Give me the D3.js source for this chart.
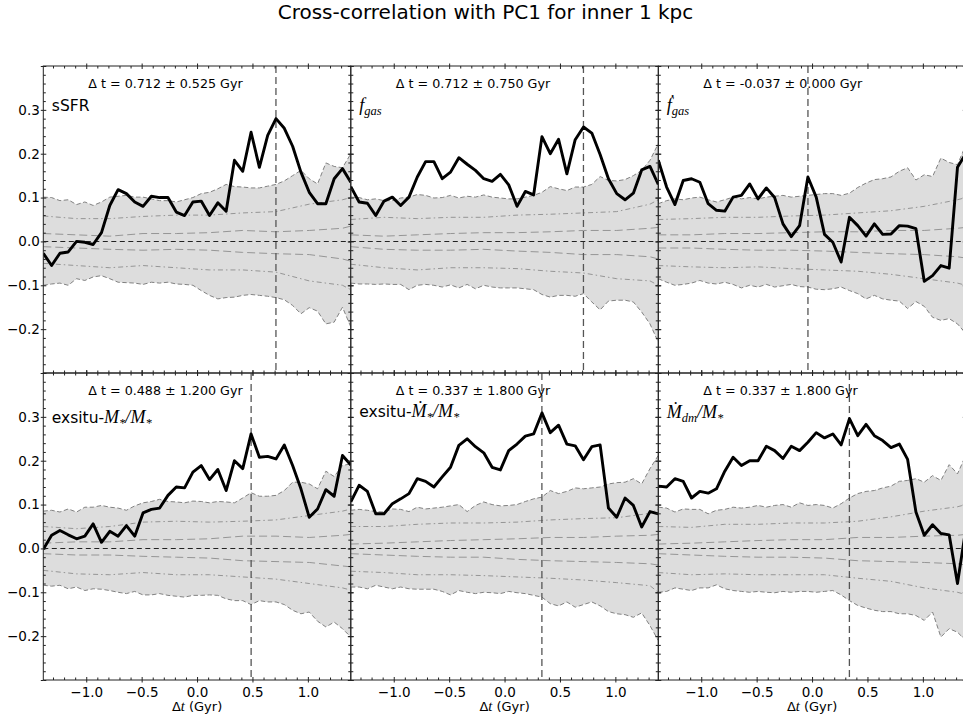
<!DOCTYPE html>
<html>
<head>
<meta charset="utf-8">
<script src="https://cdn.jsdelivr.net/npm/d3@7"></script>
<style>
  body { margin: 0; background: #fff; }
  svg { display: block; }
</style>
</head>
<body>
<svg id="chart" width="963" height="721"></svg>
<script>
// ---- lag grid (Gyr) -------------------------------------------------------
const lags = [-1.3875, -1.3125, -1.2375, -1.1625, -1.0875, -1.0125, -0.9375, -0.8625,
  -0.7875, -0.7125, -0.6375, -0.5625, -0.4875, -0.4125, -0.3375, -0.2625, -0.1875,
  -0.1125, -0.0375, 0.0375, 0.1125, 0.1875, 0.2625, 0.3375, 0.4125, 0.4875, 0.5625,
  0.6375, 0.7125, 0.7875, 0.8625, 0.9375, 1.0125, 1.0875, 1.1625, 1.2375, 1.3125, 1.3875];
// coarser lag grid used for the inner envelope lines
const innerLags = [-1.3875, -1.0875, -0.7875, -0.4875, -0.1875, 0.1125, 0.4125, 0.7125, 1.0125, 1.3125, 1.3875];

// ---- panel titles and best lags -----------------------------------------
const quantities = ["sSFR", "f_gas", "fdot_gas", "exsitu_M", "exsitu_Mdot", "Mdot_dm"];
const peakLag = [0.712, 0.712, -0.037, 0.488, 0.337, 0.337];
const peakErr = [0.525, 0.750, 0.000, 1.200, 1.800, 1.800];

// ---- cross-correlation curves ---------------------------------------------
const corrSSFR = [-0.027, -0.055, -0.027, -0.024, 0.000, -0.002, -0.007, 0.020, 0.082, 0.118,
  0.109, 0.090, 0.080, 0.103, 0.100, 0.100, 0.067, 0.059, 0.090, 0.092, 0.059, 0.088, 0.069,
  0.185, 0.160, 0.249, 0.169, 0.242, 0.280, 0.258, 0.217, 0.158, 0.112, 0.086, 0.086, 0.143,
  0.166, 0.135];
const corrFgas = [0.125, 0.090, 0.087, 0.059, 0.092, 0.101, 0.082, 0.101, 0.147, 0.182, 0.182,
  0.143, 0.158, 0.191, 0.176, 0.162, 0.143, 0.137, 0.153, 0.129, 0.080, 0.114, 0.106, 0.239,
  0.200, 0.233, 0.154, 0.232, 0.261, 0.247, 0.198, 0.143, 0.109, 0.095, 0.110, 0.163, 0.171,
  0.130];
const corrFdotGas = [0.185, 0.124, 0.084, 0.139, 0.143, 0.135, 0.086, 0.071, 0.069, 0.101,
  0.105, 0.131, 0.097, 0.122, 0.100, 0.040, 0.011, 0.036, 0.147, 0.101, 0.016, -0.002, -0.047,
  0.055, 0.036, 0.012, 0.040, 0.016, 0.017, 0.036, 0.035, 0.029, -0.091, -0.078, -0.055,
  -0.061, 0.169, 0.200];
const corrExsituM = [-0.002, 0.030, 0.041, 0.031, 0.022, 0.028, 0.056, 0.014, 0.039, 0.028,
  0.052, 0.028, 0.081, 0.089, 0.092, 0.121, 0.140, 0.138, 0.174, 0.189, 0.157, 0.180, 0.132,
  0.200, 0.182, 0.261, 0.208, 0.210, 0.204, 0.236, 0.189, 0.136, 0.071, 0.090, 0.134, 0.119,
  0.212, 0.190];
const corrExsituMdot = [0.106, 0.144, 0.130, 0.079, 0.079, 0.102, 0.113, 0.125, 0.159, 0.153,
  0.140, 0.163, 0.185, 0.235, 0.250, 0.232, 0.218, 0.185, 0.179, 0.223, 0.238, 0.256, 0.261,
  0.309, 0.264, 0.281, 0.238, 0.234, 0.202, 0.232, 0.236, 0.092, 0.071, 0.115, 0.098, 0.049,
  0.084, 0.079];
const corrMdotDm = [0.142, 0.140, 0.159, 0.153, 0.115, 0.130, 0.126, 0.136, 0.176, 0.208, 0.189,
  0.200, 0.200, 0.233, 0.223, 0.205, 0.233, 0.223, 0.242, 0.264, 0.252, 0.261, 0.236, 0.296,
  0.257, 0.283, 0.257, 0.246, 0.230, 0.238, 0.203, 0.083, 0.030, 0.054, 0.034, 0.031, -0.080,
  0.045];

// ---- null-distribution envelopes: outer band (shaded) -------------------------
const outerHiSSFR = [0.101, 0.100, 0.093, 0.095, 0.084, 0.090, 0.082, 0.090, 0.101, 0.103,
  0.105, 0.101, 0.101, 0.097, 0.093, 0.093, 0.090, 0.095, 0.100, 0.109, 0.112, 0.120, 0.130,
  0.125, 0.124, 0.122, 0.122, 0.126, 0.130, 0.138, 0.150, 0.162, 0.143, 0.131, 0.179, 0.171,
  0.168, 0.200];
const outerLoSSFR = [-0.100, -0.097, -0.095, -0.100, -0.085, -0.089, -0.081, -0.078, -0.085,
  -0.093, -0.094, -0.095, -0.098, -0.093, -0.095, -0.093, -0.097, -0.098, -0.100, -0.112,
  -0.123, -0.131, -0.128, -0.127, -0.123, -0.121, -0.123, -0.125, -0.128, -0.133, -0.146,
  -0.165, -0.151, -0.159, -0.188, -0.184, -0.150, -0.195];
const outerHiFgas = [0.101, 0.100, 0.095, 0.097, 0.093, 0.093, 0.099, 0.101, 0.107, 0.105,
  0.099, 0.100, 0.105, 0.099, 0.103, 0.101, 0.106, 0.101, 0.099, 0.097, 0.097, 0.101, 0.105,
  0.112, 0.125, 0.120, 0.116, 0.124, 0.124, 0.130, 0.148, 0.139, 0.138, 0.141, 0.150, 0.162,
  0.185, 0.223];
const outerLoFgas = [-0.095, -0.097, -0.097, -0.098, -0.097, -0.098, -0.098, -0.110, -0.100,
  -0.098, -0.100, -0.104, -0.099, -0.106, -0.098, -0.108, -0.100, -0.104, -0.106, -0.106,
  -0.106, -0.108, -0.110, -0.121, -0.127, -0.123, -0.123, -0.125, -0.119, -0.138, -0.156,
  -0.136, -0.134, -0.134, -0.138, -0.161, -0.188, -0.230];
const outerHiFdotGas = [0.086, 0.093, 0.097, 0.095, 0.099, 0.101, 0.095, 0.090, 0.095, 0.101,
  0.097, 0.100, 0.097, 0.101, 0.103, 0.105, 0.101, 0.103, 0.105, 0.107, 0.109, 0.109, 0.105,
  0.110, 0.123, 0.133, 0.141, 0.143, 0.147, 0.160, 0.168, 0.140, 0.152, 0.148, 0.190, 0.180,
  0.175, 0.220];
const outerLoFdotGas = [-0.085, -0.093, -0.100, -0.098, -0.095, -0.089, -0.095, -0.097,
  -0.093, -0.098, -0.106, -0.100, -0.104, -0.098, -0.104, -0.101, -0.098, -0.103, -0.104,
  -0.109, -0.110, -0.108, -0.104, -0.112, -0.119, -0.131, -0.123, -0.131, -0.134, -0.136,
  -0.153, -0.137, -0.148, -0.173, -0.180, -0.176, -0.188, -0.210];
const outerHiExsituM = [0.085, 0.087, 0.083, 0.090, 0.083, 0.094, 0.094, 0.098, 0.094, 0.092,
  0.087, 0.097, 0.104, 0.107, 0.112, 0.107, 0.106, 0.104, 0.108, 0.107, 0.104, 0.107, 0.106,
  0.104, 0.115, 0.127, 0.119, 0.119, 0.121, 0.132, 0.151, 0.151, 0.147, 0.136, 0.176, 0.164,
  0.189, 0.193];
const outerLoExsituM = [-0.084, -0.086, -0.084, -0.092, -0.088, -0.096, -0.092, -0.093,
  -0.096, -0.100, -0.103, -0.098, -0.106, -0.106, -0.103, -0.107, -0.109, -0.111, -0.107,
  -0.107, -0.106, -0.107, -0.115, -0.119, -0.119, -0.128, -0.119, -0.122, -0.122, -0.128,
  -0.141, -0.149, -0.145, -0.166, -0.179, -0.168, -0.183, -0.202];
const outerHiExsituMdot = [0.087, 0.089, 0.087, 0.084, 0.083, 0.090, 0.089, 0.084, 0.094,
  0.090, 0.092, 0.094, 0.097, 0.100, 0.084, 0.098, 0.106, 0.100, 0.097, 0.098, 0.100, 0.107,
  0.113, 0.117, 0.132, 0.125, 0.130, 0.138, 0.136, 0.138, 0.140, 0.147, 0.150, 0.151, 0.159,
  0.147, 0.182, 0.212];
const outerLoExsituMdot = [-0.088, -0.088, -0.092, -0.084, -0.088, -0.092, -0.088, -0.092,
  -0.093, -0.093, -0.093, -0.098, -0.106, -0.096, -0.100, -0.103, -0.100, -0.101, -0.103,
  -0.098, -0.101, -0.103, -0.107, -0.111, -0.126, -0.131, -0.122, -0.134, -0.128, -0.122,
  -0.131, -0.144, -0.149, -0.151, -0.157, -0.147, -0.176, -0.210];
const outerHiMdotDm = [0.094, 0.092, 0.083, 0.090, 0.089, 0.089, 0.079, 0.087, 0.089, 0.094,
  0.092, 0.094, 0.098, 0.094, 0.098, 0.100, 0.094, 0.104, 0.098, 0.100, 0.098, 0.092, 0.102,
  0.115, 0.125, 0.130, 0.132, 0.138, 0.142, 0.153, 0.155, 0.159, 0.151, 0.166, 0.155, 0.191,
  0.170, 0.212];
const outerLoMdotDm = [-0.100, -0.098, -0.090, -0.093, -0.096, -0.090, -0.090, -0.083, -0.092,
  -0.096, -0.098, -0.100, -0.098, -0.100, -0.101, -0.098, -0.100, -0.098, -0.098, -0.100,
  -0.098, -0.096, -0.106, -0.119, -0.130, -0.136, -0.141, -0.144, -0.144, -0.149, -0.149,
  -0.153, -0.164, -0.145, -0.202, -0.183, -0.191, -0.210];

// ---- inner envelopes: dash-dot pair and dashed pair (on innerLags) ----------
const midHiSSFR = [0.058, 0.052, 0.052, 0.057, 0.060, 0.060, 0.065, 0.068, 0.085, 0.095, 0.100];
const midLoSSFR = [-0.050, -0.055, -0.060, -0.055, -0.060, -0.065, -0.065, -0.070, -0.090, -0.100, -0.110];
const nearHiSSFR = [0.018, 0.015, 0.012, 0.018, 0.018, 0.020, 0.025, 0.022, 0.025, 0.030, 0.035];
const nearLoSSFR = [-0.012, -0.015, -0.018, -0.020, -0.018, -0.020, -0.025, -0.028, -0.030, -0.040, -0.045];
const midHiFgas = [0.050, 0.055, 0.052, 0.055, 0.055, 0.060, 0.062, 0.065, 0.068, 0.085, 0.095];
const midLoFgas = [-0.052, -0.060, -0.065, -0.060, -0.060, -0.062, -0.068, -0.072, -0.085, -0.090, -0.100];
const nearHiFgas = [0.015, 0.012, 0.015, 0.018, 0.020, 0.020, 0.022, 0.025, 0.025, 0.030, 0.032];
const nearLoFgas = [-0.012, -0.018, -0.020, -0.020, -0.018, -0.022, -0.025, -0.030, -0.030, -0.035, -0.040];
const midHiFdotGas = [0.050, 0.052, 0.055, 0.055, 0.058, 0.060, 0.065, 0.070, 0.080, 0.095, 0.100];
const midLoFdotGas = [-0.055, -0.058, -0.060, -0.058, -0.062, -0.065, -0.068, -0.075, -0.085, -0.095, -0.100];
const nearHiFdotGas = [0.015, 0.015, 0.018, 0.018, 0.020, 0.022, 0.022, 0.025, 0.025, 0.030, 0.032];
const nearLoFdotGas = [-0.015, -0.015, -0.018, -0.020, -0.020, -0.022, -0.025, -0.028, -0.030, -0.035, -0.038];
const midHiExsituM = [0.050, 0.045, 0.050, 0.060, 0.062, 0.060, 0.062, 0.065, 0.075, 0.085, 0.090];
const midLoExsituM = [-0.050, -0.058, -0.060, -0.055, -0.060, -0.060, -0.065, -0.070, -0.080, -0.090, -0.095];
const nearHiExsituM = [0.012, 0.015, 0.015, 0.020, 0.020, 0.022, 0.028, 0.028, 0.025, 0.030, 0.032];
const nearLoExsituM = [-0.012, -0.015, -0.015, -0.018, -0.020, -0.022, -0.028, -0.030, -0.032, -0.040, -0.042];
const midHiExsituMdot = [0.050, 0.050, 0.055, 0.058, 0.058, 0.060, 0.065, 0.068, 0.070, 0.080, 0.090];
const midLoExsituMdot = [-0.052, -0.055, -0.060, -0.060, -0.062, -0.065, -0.068, -0.072, -0.078, -0.085, -0.100];
const nearHiExsituMdot = [0.010, 0.012, 0.015, 0.018, 0.020, 0.022, 0.025, 0.025, 0.028, 0.030, 0.032];
const nearLoExsituMdot = [-0.012, -0.015, -0.018, -0.020, -0.020, -0.025, -0.028, -0.030, -0.032, -0.035, -0.038];
const midHiMdotDm = [0.050, 0.048, 0.055, 0.055, 0.058, 0.058, 0.062, 0.072, 0.085, 0.095, 0.100];
const midLoMdotDm = [-0.055, -0.060, -0.058, -0.060, -0.060, -0.060, -0.068, -0.075, -0.090, -0.100, -0.105];
const nearHiMdotDm = [0.010, 0.012, 0.015, 0.018, 0.020, 0.020, 0.025, 0.025, 0.028, 0.030, 0.032];
const nearLoMdotDm = [-0.012, -0.015, -0.018, -0.020, -0.020, -0.022, -0.028, -0.030, -0.032, -0.035, -0.038];

// ---- ticks ------------------------------------------------------------------
const xMajor = [-1.0, -0.5, 0.0, 0.5, 1.0];
const xMinor = [-1.3, -1.2, -1.1, -0.9, -0.8, -0.7, -0.6, -0.4, -0.3, -0.2, -0.1,
  0.1, 0.2, 0.3, 0.4, 0.6, 0.7, 0.8, 0.9, 1.1, 1.2, 1.3];
const yMajor = [-0.3, -0.2, -0.1, 0.0, 0.1, 0.2, 0.3, 0.4];
const yLabelled = [-0.2, -0.1, 0.0, 0.1, 0.2, 0.3];
const yMinor = [-0.28, -0.26, -0.24, -0.22, -0.18, -0.16, -0.14, -0.12, -0.08, -0.06, -0.04,
  -0.02, 0.02, 0.04, 0.06, 0.08, 0.12, 0.14, 0.16, 0.18, 0.22, 0.24, 0.26, 0.28, 0.32, 0.34,
  0.36, 0.38];

// ---- panel assembly ---------------------------------------------------------
const panelSeries = [
  { corr: corrSSFR, hi: outerHiSSFR, lo: outerLoSSFR, mHi: midHiSSFR, mLo: midLoSSFR, nHi: nearHiSSFR, nLo: nearLoSSFR,
    label: [["sSFR", "sans"]] },
  { corr: corrFgas, hi: outerHiFgas, lo: outerLoFgas, mHi: midHiFgas, mLo: midLoFgas, nHi: nearHiFgas, nLo: nearLoFgas,
    label: [["f", "math"], ["gas", "sub"]] },
  { corr: corrFdotGas, hi: outerHiFdotGas, lo: outerLoFdotGas, mHi: midHiFdotGas, mLo: midLoFdotGas, nHi: nearHiFdotGas, nLo: nearLoFdotGas,
    label: [["\u1E1F", "math"], ["gas", "sub"]] },
  { corr: corrExsituM, hi: outerHiExsituM, lo: outerLoExsituM, mHi: midHiExsituM, mLo: midLoExsituM, nHi: nearHiExsituM, nLo: nearLoExsituM,
    label: [["exsitu-", "sans"], ["M", "math"], ["*", "sub"], ["/", "math"], ["M", "math"], ["*", "sub"]] },
  { corr: corrExsituMdot, hi: outerHiExsituMdot, lo: outerLoExsituMdot, mHi: midHiExsituMdot, mLo: midLoExsituMdot, nHi: nearHiExsituMdot, nLo: nearLoExsituMdot,
    label: [["exsitu-", "sans"], ["\u1E40", "math"], ["*", "sub"], ["/", "math"], ["M", "math"], ["*", "sub"]] },
  { corr: corrMdotDm, hi: outerHiMdotDm, lo: outerLoMdotDm, mHi: midHiMdotDm, mLo: midLoMdotDm, nHi: nearHiMdotDm, nLo: nearLoMdotDm,
    label: [["\u1E40", "math"], ["dm", "sub"], ["/", "math"], ["M", "math"], ["*", "sub"]] }
];

// ---- layout -----------------------------------------------------------------
const W = 963, H = 721;
const left0 = 43.3, top0 = 66, pw = 307.5, ph = 307;
const labelBaseline = [45, 45, 45, 50, 44, 45];
const SANS = "'DejaVu Sans', sans-serif";
const SERIF = "'Liberation Serif', 'DejaVu Serif', serif";
const TICK_FONT = 13.5;

const svg = d3.select("#chart");
svg.append("rect").attr("width", W).attr("height", H).attr("fill", "#fff");

svg.append("text")
  .attr("x", 485.5).attr("y", 19)
  .attr("text-anchor", "middle")
  .attr("font-family", SANS).attr("font-size", 20)
  .attr("fill", "#000")
  .text("Cross-correlation with PC1 for inner 1 kpc");

const x = d3.scaleLinear().domain([-1.3875, 1.3875]).range([0, pw]);
const y = d3.scaleLinear().domain([-0.3, 0.4]).range([ph, 0]);
const line = d3.line().x(d => x(d[0])).y(d => y(d[1]));
const band = d3.area().x(d => x(d[0])).y0(d => y(d[1])).y1(d => y(d[2]));

const defs = svg.append("defs");
defs.append("clipPath").attr("id", "plotClip")
  .append("rect").attr("width", pw).attr("height", ph);

const fmt = d3.format(".1f");

panelSeries.forEach((p, i) => {
  const col = i % 3, row = Math.floor(i / 3);
  const g = svg.append("g")
    .attr("transform", `translate(${left0 + col * pw},${top0 + row * ph})`);
  const plot = g.append("g").attr("clip-path", "url(#plotClip)");

  // shaded outer envelope
  const bandData = lags.map((t, k) => [t, p.lo[k], p.hi[k]]);
  plot.append("path").datum(bandData).attr("d", band)
    .attr("fill", "#dddddd").attr("stroke", "none");

  [p.hi, p.lo].forEach(s => {
    plot.append("path").datum(lags.map((t, k) => [t, s[k]])).attr("d", line)
      .attr("fill", "none").attr("stroke", "#808080")
      .attr("stroke-width", 1).attr("stroke-dasharray", "4.5,2.5");
  });
  [p.mHi, p.mLo].forEach(s => {
    plot.append("path").datum(innerLags.map((t, k) => [t, s[k]])).attr("d", line)
      .attr("fill", "none").attr("stroke", "#959595")
      .attr("stroke-width", 1).attr("stroke-dasharray", "5,3,1.5,3");
  });
  [p.nHi, p.nLo].forEach(s => {
    plot.append("path").datum(innerLags.map((t, k) => [t, s[k]])).attr("d", line)
      .attr("fill", "none").attr("stroke", "#959595")
      .attr("stroke-width", 1).attr("stroke-dasharray", "8,4");
  });

  // zero correlation reference
  plot.append("line")
    .attr("x1", 0).attr("x2", pw).attr("y1", y(0)).attr("y2", y(0))
    .attr("stroke", "#222").attr("stroke-width", 1.1).attr("stroke-dasharray", "5,3.5");

  // best lag marker
  plot.append("line")
    .attr("x1", x(peakLag[i])).attr("x2", x(peakLag[i]))
    .attr("y1", 0).attr("y2", ph)
    .attr("stroke", "#555").attr("stroke-width", 1.3).attr("stroke-dasharray", "7,4");

  // measured cross-correlation
  plot.append("path").datum(lags.map((t, k) => [t, p.corr[k]])).attr("d", line)
    .attr("fill", "none").attr("stroke", "#000")
    .attr("stroke-width", 2.9).attr("stroke-linejoin", "round");

  // frame
  g.append("rect").attr("width", pw).attr("height", ph)
    .attr("fill", "none").attr("stroke", "#222").attr("stroke-width", 1);

  // ticks: majors straddle the frame, minors point inward
  const tickGroup = (axisFn, transform) => {
    const a = g.append("g").attr("transform", transform).call(axisFn);
    a.select(".domain").remove();
    a.selectAll(".tick line").attr("stroke", "#222");
    return a;
  };
  const yAxisOut = d3.axisLeft(y).tickValues(yMajor).tickSize(2.5).tickPadding(1)
    .tickFormat(d => (col === 0 && yLabelled.some(v => Math.abs(v - d) < 1e-9)) ? fmt(d) : "");
  const yl = tickGroup(yAxisOut, "translate(0,0)");
  yl.selectAll("text").attr("font-family", SANS).attr("font-size", TICK_FONT).attr("fill", "#000");
  tickGroup(d3.axisLeft(y).tickValues(yMajor).tickSize(-3).tickFormat(""), "translate(0,0)");
  tickGroup(d3.axisLeft(y).tickValues(yMinor).tickSize(-2.5).tickFormat(""), "translate(0,0)");
  tickGroup(d3.axisRight(y).tickValues(yMajor).tickSize(-3).tickFormat(""), `translate(${pw},0)`);
  tickGroup(d3.axisRight(y).tickValues(yMajor).tickSize(2.5).tickFormat(""), `translate(${pw},0)`);
  tickGroup(d3.axisRight(y).tickValues(yMinor).tickSize(-2.5).tickFormat(""), `translate(${pw},0)`);

  const xAxisOut = d3.axisBottom(x).tickValues(xMajor).tickSize(2.5).tickPadding(5)
    .tickFormat(d => row === 1 ? fmt(d) : "");
  const xb = tickGroup(xAxisOut, `translate(0,${ph})`);
  xb.selectAll("text").attr("font-family", SANS).attr("font-size", TICK_FONT).attr("fill", "#000");
  tickGroup(d3.axisBottom(x).tickValues(xMajor).tickSize(-3).tickFormat(""), `translate(0,${ph})`);
  tickGroup(d3.axisBottom(x).tickValues(xMinor).tickSize(-2.5).tickFormat(""), `translate(0,${ph})`);
  tickGroup(d3.axisTop(x).tickValues(xMajor).tickSize(-3).tickFormat(""), "translate(0,0)");
  tickGroup(d3.axisTop(x).tickValues(xMajor).tickSize(2.5).tickFormat(""), "translate(0,0)");
  tickGroup(d3.axisTop(x).tickValues(xMinor).tickSize(-2.5).tickFormat(""), "translate(0,0)");

  // lag annotation
  g.append("text")
    .attr("x", 45).attr("y", 22)
    .attr("font-family", SANS).attr("font-size", 12.7).attr("fill", "#000")
    .text(`\u0394 t = ${peakLag[i].toFixed(3)} \u00B1 ${peakErr[i].toFixed(3)} Gyr`);

  // quantity label
  const lab = g.append("text")
    .attr("x", 8.5).attr("y", labelBaseline[i])
    .attr("fill", "#000");
  let shift = 0;
  p.label.forEach(([txt, kind]) => {
    const ts = lab.append("tspan").text(txt);
    if (kind === "sans") {
      ts.attr("font-family", SANS).attr("font-size", 15.5);
    } else if (kind === "math") {
      ts.attr("font-family", SERIF).attr("font-style", "italic").attr("font-size", 18);
    } else {
      ts.attr("font-family", SERIF).attr("font-style", "italic").attr("font-size", 12.5);
    }
    const target = kind === "sub" ? 3.5 : 0;
    if (target !== shift) { ts.attr("dy", target - shift); shift = target; }
  });

  // x-axis title on the bottom row
  if (row === 1) {
    const xt = g.append("text")
      .attr("x", pw / 2).attr("y", ph + 31)
      .attr("text-anchor", "middle").attr("fill", "#000")
      .attr("font-family", SANS).attr("font-size", 13);
    xt.append("tspan").text("\u0394");
    xt.append("tspan").attr("font-family", SERIF).attr("font-style", "italic").attr("font-size", 14.5).text("t");
    xt.append("tspan").text(" (Gyr)");
  }
});
</script>
</body>
</html>
